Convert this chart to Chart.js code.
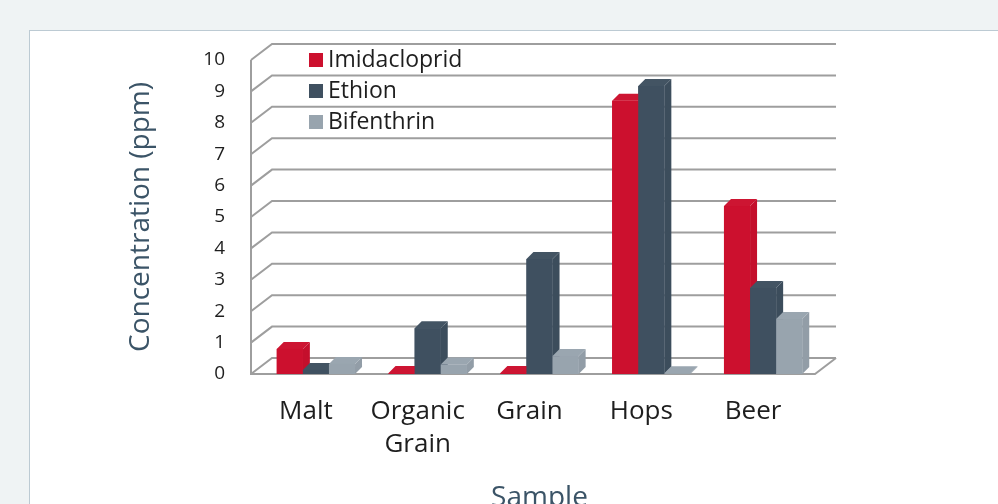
<!DOCTYPE html>
<html>
<head>
<meta charset="utf-8">
<script src="https://cdn.jsdelivr.net/npm/chart.js@4.4.1/dist/chart.umd.min.js"></script>
<style>
  html, body { margin: 0; padding: 0; width: 998px; height: 504px; overflow: hidden; background: #eff3f4; }
  #panel { position: absolute; left: 29px; top: 30px; width: 1000px; height: 500px; background: #ffffff; border: 1px solid #bccad3; }
  #wrap { position: absolute; left: 0; top: 0; width: 998px; height: 504px; }
</style>
</head>
<body>
<div id="panel"></div>
<div id="wrap"><canvas id="chart" width="998" height="504"></canvas></div>
<script>
// ---- data ----
const categories = ["Malt", "Organic Grain", "Grain", "Hops", "Beer"];
const seriesNames = ["Imidacloprid", "Ethion", "Bifenthrin"];
const imidacloprid = [0.8, 0.03, 0.03, 8.7, 5.35];
const ethion = [0.13, 1.46, 3.66, 9.17, 2.74];
const bifenthrin = [0.32, 0.3, 0.57, 0.02, 1.75];
const yTickValues = [0, 1, 2, 3, 4, 5, 6, 7, 8, 9, 10];
const seriesColors = ["#cc102e", "#3f5060", "#98a4ae"];

function shade(hex, f) {
  const n = parseInt(hex.slice(1), 16);
  let r = (n >> 16) & 255, g = (n >> 8) & 255, b = n & 255;
  const t = f < 0 ? 0 : 255, p = Math.abs(f);
  r = Math.round(r + (t - r) * p); g = Math.round(g + (t - g) * p); b = Math.round(b + (t - b) * p);
  return `rgb(${r},${g},${b})`;
}

// back wall / floor frame drawn from the scales
const WALL = { dx: 21, dy: 16, frontLeft: 9, frontRight: 4 };
const frame3d = {
  id: 'frame3d',
  beforeDatasetsDraw(chart) {
    const { ctx, chartArea: a, scales: { y } } = chart;
    const fl = a.left - WALL.frontLeft, fr = a.right - WALL.frontRight;
    ctx.save();
    ctx.strokeStyle = '#9e9e9e';
    ctx.lineWidth = 2;
    ctx.lineJoin = 'miter';
    y.ticks.forEach(t => {
      const py = y.getPixelForValue(t.value);
      ctx.beginPath();
      ctx.moveTo(fl, py);
      ctx.lineTo(fl + WALL.dx, py - WALL.dy);
      ctx.lineTo(fr + WALL.dx, py - WALL.dy);
      ctx.stroke();
    });
    const y0 = y.getPixelForValue(0), yTop = y.getPixelForValue(y.max);
    ctx.beginPath();
    ctx.moveTo(fl, yTop);
    ctx.lineTo(fl, y0);
    ctx.lineTo(fr, y0);
    ctx.lineTo(fr + WALL.dx, y0 - WALL.dy);
    ctx.stroke();
    ctx.restore();
  }
};

// 3D faces of the bars, drawn from the library's bar elements
const BAR = { dx: 7, dy: 7 };
const bars3d = {
  id: 'bars3d',
  afterDatasetsDraw(chart) {
    const { ctx } = chart;
    ctx.save();
    categories.forEach((c, j) => {
      chart.data.datasets.forEach((ds, i) => {
        const el = chart.getDatasetMeta(i).data[j];
        const { x, y, base, width } = el.getProps(['x', 'y', 'base', 'width'], true);
        const l = x - width / 2, r = x + width / 2;
        const col = seriesColors[i];
        // side
        ctx.fillStyle = shade(col, -0.04);
        ctx.beginPath();
        ctx.moveTo(r, y); ctx.lineTo(r + BAR.dx, y - BAR.dy);
        ctx.lineTo(r + BAR.dx, base - BAR.dy); ctx.lineTo(r, base);
        ctx.closePath(); ctx.fill();
        // top
        ctx.fillStyle = shade(col, 0.02);
        ctx.beginPath();
        ctx.moveTo(l, y); ctx.lineTo(l + BAR.dx, y - BAR.dy);
        ctx.lineTo(r + BAR.dx, y - BAR.dy); ctx.lineTo(r, y);
        ctx.closePath(); ctx.fill();
        // front
        ctx.fillStyle = col;
        ctx.fillRect(l, y, width, base - y);
      });
    });
    ctx.restore();
  }
};

// legend inside the plot, top-left
const innerLegend = {
  id: 'innerLegend',
  afterDraw(chart) {
    const { ctx, chartArea: a } = chart;
    ctx.save();
    ctx.font = '23px "Open Sans"';
    ctx.textAlign = 'left';
    ctx.textBaseline = 'alphabetic';
    chart.data.datasets.forEach((ds, i) => {
      const base = a.top + 7 + i * 31;
      ctx.fillStyle = ds.backgroundColor;
      ctx.fillRect(a.left + 49, base - 14, 14, 14);
      ctx.fillStyle = '#1e1e1e';
      ctx.fillText(ds.label, a.left + 68, base);
    });
    ctx.restore();
  }
};

const ctx = document.getElementById('chart');
new Chart(ctx, {
  type: 'bar',
  data: {
    labels: categories,
    datasets: [
      { label: seriesNames[0], data: imidacloprid, backgroundColor: seriesColors[0] },
      { label: seriesNames[1], data: ethion, backgroundColor: seriesColors[1] },
      { label: seriesNames[2], data: bifenthrin, backgroundColor: seriesColors[2] }
    ]
  },
  options: {
    responsive: false,
    animation: false,
    devicePixelRatio: 1,
    layout: { padding: { left: 100, top: 60, right: 179, bottom: 0 } },
    datasets: { bar: { categoryPercentage: 0.7, barPercentage: 1.0 } },
    plugins: { legend: { display: false }, tooltip: { enabled: false } },
    scales: {
      x: {
        grid: { display: false, drawTicks: false },
        border: { display: false },
        ticks: {
          color: '#1e1e1e',
          font: { family: '"Open Sans"', size: 26, lineHeight: '33px' },
          padding: 21,
          labelOffset: -10,
          maxRotation: 0,
          autoSkip: false,
          callback: function (v, i) { const s = categories[i]; return s.indexOf(' ') > 0 ? s.split(' ') : s; }
        },
        title: {
          display: true, text: 'Sample', color: '#3b5467',
          font: { family: '"Open Sans"', size: 28, lineHeight: 1.2 },
          padding: { top: 0, bottom: -10.5 }
        },
        afterFit(scale) { scale.height = 130; }
      },
      y: {
        min: 0, max: 10,
        afterBuildTicks(scale) { scale.ticks = yTickValues.map(v => ({ value: v })); },
        grid: { display: false, drawTicks: false },
        border: { display: false },
        ticks: {
          color: '#1e1e1e',
          font: { family: '"Open Sans"', size: 19 },
          padding: 35
        },
        title: {
          display: true, text: 'Concentration (ppm)', color: '#3b5467',
          font: { family: '"Open Sans"', size: 28, lineHeight: 1.2 },
          padding: { top: 24.2, bottom: 0 }
        },
        afterFit(scale) { scale.width = 160; }
      }
    }
  },
  plugins: [frame3d, bars3d, innerLegend]
});
</script>
</body>
</html>
